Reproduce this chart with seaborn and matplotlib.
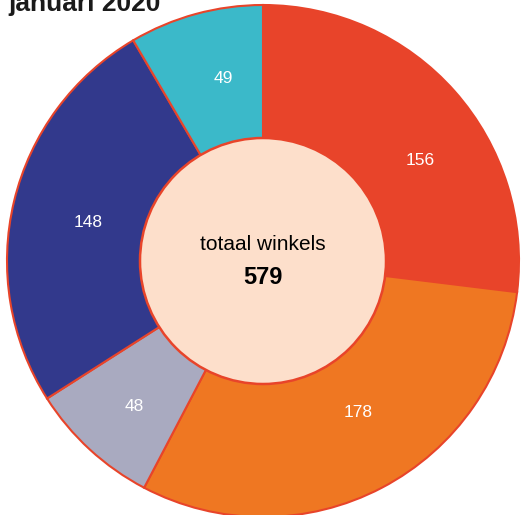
import numpy as np
import matplotlib.pyplot as plt
import seaborn as sns

categories = ['A', 'B', 'C', 'D', 'E']
values = [156, 178, 48, 148, 49]
colors = ['#e8442a', '#ef7722', '#a9aac0', '#32398c', '#3bb9c9']
# small label nudges (degrees, radius fraction) to follow the reference placement
label_shift = [-9, 4.5, 1, 1, -3]
label_dist = [0.73, 0.70, 0.76, 0.70, 0.73]
total = sum(values)

sns.set_theme(style='white')
plt.rcParams['font.family'] = ['Liberation Sans', 'DejaVu Sans']

fig = plt.figure(figsize=(5.27, 5.15), dpi=100)
ax = fig.add_axes([0, 0, 1, 1])

cx, cy, r = 263, 515 - 261, 256
wedges, _ = ax.pie(values, colors=colors, startangle=90, counterclock=False,
                   radius=r, center=(cx, cy), frame=False,
                   wedgeprops=dict(edgecolor='#e8442a', linewidth=1.5))

for w, v, sh, d in zip(wedges, values, label_shift, label_dist):
    ang = np.deg2rad((w.theta1 + w.theta2) / 2 + sh)
    ax.text(cx + d * r * np.cos(ang), cy + d * r * np.sin(ang), str(v),
            ha='center', va='center', color='white', fontsize=12.5)

centre = plt.Circle((cx, cy), 123, facecolor='#fddfcb', edgecolor='#e8442a', linewidth=1.8, zorder=5)
ax.add_patch(centre)
ax.text(cx, cy + 16, 'totaal winkels', ha='center', va='center', fontsize=15, color='black', zorder=6)
ax.text(cx, cy - 16, str(total), ha='center', va='center', fontsize=17, fontweight='bold', color='black', zorder=6)

ax.set_xlim(0, 527)
ax.set_ylim(0, 515)
ax.set_aspect('equal')
ax.axis('off')

fig.text(8 / 527, 1 - 11 / 515, 'januari 2020', ha='left', va='baseline', fontsize=19,
         fontweight='bold', color='#1a1a1a')

plt.savefig('out.png', dpi=100)
plt.close()
